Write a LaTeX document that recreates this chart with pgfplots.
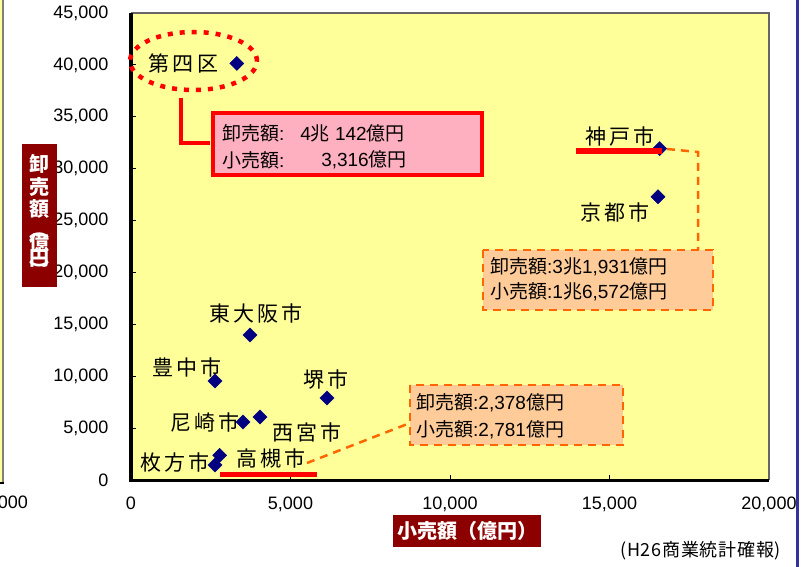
\documentclass[border=0pt]{standalone}
\usepackage{pgfplots}
\pgfplotsset{compat=1.18}
\usepackage{fontspec}
\setmainfont{Liberation Sans}
\newfontfamily\jp{Noto Sans CJK JP}
\newfontfamily\jpls{Noto Sans CJK JP}[LetterSpace=15]
\newfontfamily\jpsrc{Noto Sans CJK JP}[LetterSpace=4]
\definecolor{plotyellow}{RGB}{255,255,153}
\definecolor{navy}{RGB}{0,0,128}
\definecolor{darkred}{RGB}{140,0,0}
\definecolor{pinkfill}{RGB}{255,176,192}
\definecolor{peach}{RGB}{255,204,153}
\definecolor{dorange}{RGB}{255,102,0}
\definecolor{rblue}{RGB}{51,51,153}
\newcommand{\city}{\fontsize{21}{24}\selectfont\jpls}
\newcommand{\ann}{\fontsize{19}{21}\selectfont}
\begin{document}
\begin{tikzpicture}[x=1pt,y=1pt]
\useasboundingbox (0,0) rectangle (801,566);
% left fragment of previous chart
\fill[plotyellow] (-20,83) rectangle (3,570);
\draw[gray,line width=1.5pt] (3,83) -- (3,570);
\draw[black,line width=2.5pt] (-20,83) -- (4,83);
\node[anchor=east,inner sep=0pt,font=\fontsize{18}{20}\selectfont] at (28,63) {20,000};
% right blue line
\draw[rblue,line width=3pt] (797,-5) -- (797,571);
\begin{axis}[
  at={(131pt,86pt)}, anchor=south west,
  scale only axis, width=638pt, height=467pt,
  xmin=0, xmax=20000, ymin=0, ymax=45000,
  xtick={0,5000,10000,15000,20000},
  ytick={0,5000,10000,15000,20000,25000,30000,35000,40000,45000},
  scaled ticks=false,
  tick pos=left, tick align=inside,
  major tick length=5pt,
  tick style={black, line width=1pt},
  axis line style={draw=none},
  axis background/.style={fill=plotyellow},
  /pgf/number format/assume math mode=true,
  /pgf/number format/1000 sep={,},
  ticklabel style={font=\fontsize{18}{20}\selectfont},
  xticklabel style={yshift=-13pt},
  yticklabel style={xshift=-19pt},
  clip=false,
]
\addplot[only marks, mark=square*, mark size=5pt,
  mark options={rotate=45, fill=navy, draw=navy}]
  coordinates {
  (3316,40142) (16572,31931) (16520,27300) (3730,13970) (2633,9540)
  (6144,7900) (4044,6070) (3511,5590) (2781,2378) (2633,1445)
  };
\draw[gray!80!black, line width=1.3pt] (rel axis cs:0,1) -- (rel axis cs:1,1) -- (rel axis cs:1,0);
\draw[black, line width=3pt] (rel axis cs:0,1) -- (rel axis cs:0,0) -- (rel axis cs:1,0);
\end{axis}
% Daiyonku annotation
\draw[red, line width=4.5pt, dash pattern=on 5pt off 7pt] (193.5,505) ellipse (63.5 and 29);
\node[font=\city, inner sep=0pt] at (183.5,503) {第四区};
\draw[red, line width=4pt] (181,468) -- (181,423) -- (210,423);
\draw[red, line width=4pt, fill=pinkfill] (213,453) rectangle (482,391);
\node[anchor=west, inner sep=0pt, font=\ann] at (222,433) {{\jp 卸売額}:};
\node[anchor=east, inner sep=0pt, font=\ann] at (405,433) {4{\jp 兆}\ 142{\jp 億円}};
\node[anchor=west, inner sep=0pt, font=\ann] at (222,406) {{\jp 小売額}:};
\node[anchor=east, inner sep=0pt, font=\ann] at (407,406) {3,316{\jp 億円}};
% Kobe
\node[font=\city, inner sep=0pt] at (620,429) {神戸市};
\draw[red, line width=6pt] (576,415) -- (662,415);
\draw[dorange, line width=2.5pt, dash pattern=on 8pt off 6pt] (667,417) -- (698,414) -- (698,316);
\draw[dorange, line width=2.5pt, dash pattern=on 8pt off 6pt, fill=peach] (483,316) rectangle (713,256);
\node[anchor=west, inner sep=0pt, font=\ann] at (490,299) {{\jp 卸売額}:3{\jp 兆}1,931{\jp 億円}};
\node[anchor=west, inner sep=0pt, font=\ann] at (490,274) {{\jp 小売額}:1{\jp 兆}6,572{\jp 億円}};
\node[font=\city, inner sep=0pt] at (615,353) {京都市};
% other cities
\node[font=\city, inner sep=0pt] at (256,253) {東大阪市};
\node[font=\city, inner sep=0pt] at (187,199) {豊中市};
\node[font=\city, inner sep=0pt] at (326,186) {堺市};
\node[font=\city, inner sep=0pt] at (205,144) {尼崎市};
\node[font=\city, inner sep=0pt] at (307,134) {西宮市};
\node[font=\city, inner sep=0pt] at (175,103) {枚方市};
\node[font=\city, inner sep=0pt] at (271,108) {高槻市};
\draw[red, line width=5pt] (220,92) -- (317,92);
\draw[dorange, line width=2.5pt, dash pattern=on 8pt off 6pt] (307,103) -- (410,143);
\draw[dorange, line width=2.5pt, dash pattern=on 8pt off 6pt, fill=peach] (410,181) rectangle (623,121);
\node[anchor=west, inner sep=0pt, font=\ann] at (416,163) {{\jp 卸売額}:2,378{\jp 億円}};
\node[anchor=west, inner sep=0pt, font=\ann] at (416,136) {{\jp 小売額}:2,781{\jp 億円}};
% axis titles
\fill[darkred] (22,422) rectangle (57,279);
\node[inner sep=0pt, text=white, align=center, anchor=north,
  font=\fontsize{20}{22}\selectfont\jp\bfseries] at (39.5,412)
  {卸\\[1pt]売\\[0pt]額\\[-1pt]︵\\[-9pt]億\\[-7pt]円\\[-10pt]︶};
\fill[darkred] (393,51) rectangle (541,19);
\node[inner sep=0pt, text=white, font=\fontsize{20}{22}\selectfont\jp\bfseries] at (467,35) {小売額（億円）};
\node[anchor=east, inner sep=0pt, font=\fontsize{18}{20}\selectfont\jpsrc] at (781,15) {(H26商業統計確報)};
\end{tikzpicture}
\end{document}
